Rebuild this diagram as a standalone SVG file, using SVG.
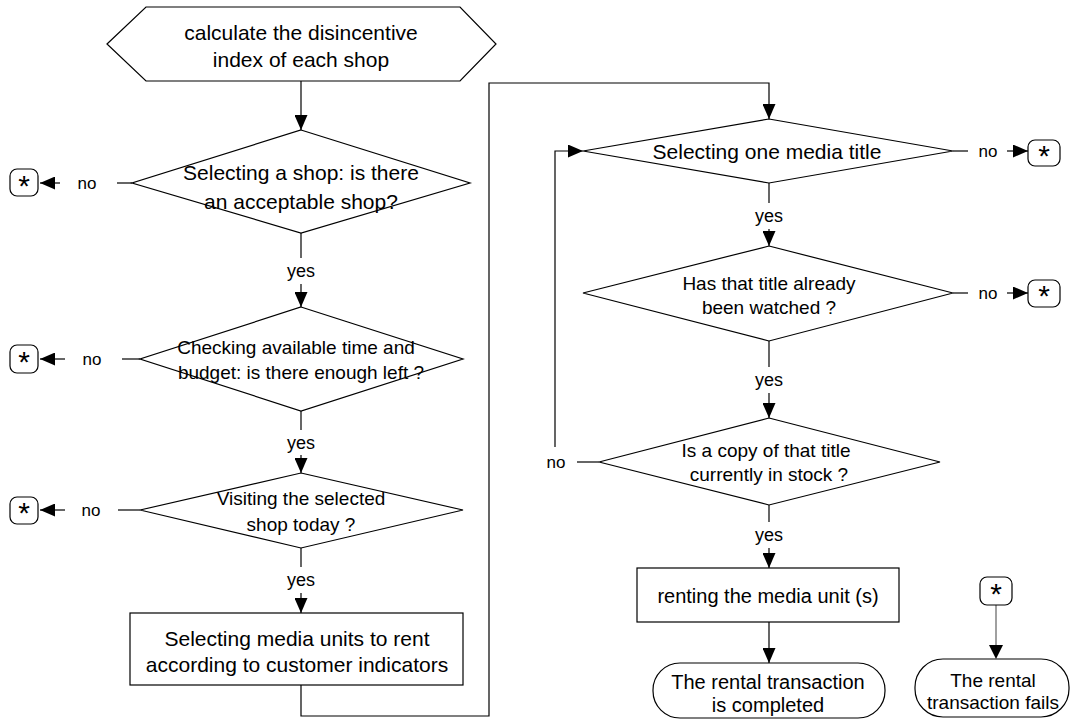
<svg xmlns="http://www.w3.org/2000/svg" width="1070" height="720" viewBox="0 0 1070 720">
<defs>
<marker id="ah" markerUnits="userSpaceOnUse" markerWidth="15" markerHeight="13" refX="15" refY="6.5" orient="auto">
<path d="M0,0 L15,6.5 L0,13 Z" fill="#000"/>
</marker>
<style>
.s{fill:#fff;stroke:#000;stroke-width:1.2}
.c{fill:none;stroke:#000;stroke-width:1.2}
.g{fill:none;stroke:#808080;stroke-width:1.5}
.a{font-family:"Liberation Sans",Arial,sans-serif;font-size:21px;text-anchor:middle;dominant-baseline:central;fill:#000}
.j{font-family:"Liberation Sans",Arial,sans-serif;font-size:19px;text-anchor:middle;dominant-baseline:central;fill:#000}
.n{font-family:"Liberation Sans",Arial,sans-serif;font-size:17px;text-anchor:middle;dominant-baseline:central;fill:#000}
.y{font-family:"Liberation Sans",Arial,sans-serif;font-size:18px;text-anchor:middle;dominant-baseline:central;fill:#000}
.st{font-family:"Liberation Sans",Arial,sans-serif;font-size:30px;text-anchor:middle;fill:#000}
</style>
</defs>
<rect width="1070" height="720" fill="#fff"/>

<g id="connectors">
<line class="c" x1="301" y1="81" x2="301" y2="130" marker-end="url(#ah)"/>
<line class="c" x1="301" y1="233" x2="301" y2="258"/>
<line class="c" x1="301" y1="284" x2="301" y2="307" marker-end="url(#ah)"/>
<text class="y" x="301" y="271">yes</text>
<line class="c" x1="301" y1="411" x2="301" y2="430"/>
<line class="c" x1="301" y1="455" x2="301" y2="473" marker-end="url(#ah)"/>
<text class="y" x="301" y="443">yes</text>
<line class="c" x1="301" y1="548" x2="301" y2="567"/>
<line class="c" x1="301" y1="593" x2="301" y2="613" marker-end="url(#ah)"/>
<text class="y" x="301" y="580">yes</text>

<line class="c" x1="132" y1="183" x2="117" y2="183"/>
<text class="n" x="87" y="183">no</text>
<line class="c" x1="60" y1="183" x2="40" y2="183" marker-end="url(#ah)"/>
<line class="c" x1="140" y1="359" x2="122" y2="359"/>
<text class="n" x="92" y="359">no</text>
<line class="c" x1="65" y1="359" x2="40" y2="359" marker-end="url(#ah)"/>
<line class="c" x1="140" y1="510" x2="118" y2="510"/>
<text class="n" x="91" y="510">no</text>
<line class="c" x1="65" y1="510" x2="40" y2="510" marker-end="url(#ah)"/>

<polyline class="c" points="301,685 301,716 489,716 489,83 769,83 769,119" marker-end="url(#ah)"/>

<line class="c" x1="769" y1="183" x2="769" y2="203"/>
<line class="c" x1="769" y1="229" x2="769" y2="246" marker-end="url(#ah)"/>
<text class="y" x="769" y="216">yes</text>
<line class="c" x1="769" y1="341" x2="769" y2="367"/>
<line class="c" x1="769" y1="393" x2="769" y2="418" marker-end="url(#ah)"/>
<text class="y" x="769" y="380">yes</text>
<line class="c" x1="769" y1="505" x2="769" y2="522"/>
<line class="c" x1="769" y1="548" x2="769" y2="568" marker-end="url(#ah)"/>
<text class="y" x="769" y="535">yes</text>
<line class="c" x1="769" y1="622" x2="769" y2="663" marker-end="url(#ah)"/>

<line class="c" x1="953" y1="151" x2="968" y2="151"/>
<text class="n" x="988" y="151">no</text>
<line class="c" x1="1007" y1="151" x2="1028" y2="151" marker-end="url(#ah)"/>
<line class="c" x1="953" y1="293" x2="968" y2="293"/>
<text class="n" x="988" y="293">no</text>
<line class="c" x1="1007" y1="293" x2="1028" y2="293" marker-end="url(#ah)"/>

<line class="c" x1="599" y1="462" x2="577" y2="462"/>
<text class="n" x="556" y="462">no</text>
<polyline class="c" points="555,447 555,151 583,151" marker-end="url(#ah)"/>

<line class="g" x1="996" y1="605" x2="996" y2="645"/>
<path d="M989,645 L1003,645 L996,659 Z" fill="#000"/>
</g>

<g id="start">
<polygon class="s" points="107,44 146,7 460,7 496,44 460,81 146,81"/>
<text class="a" x="301" y="32">calculate the disincentive</text>
<text class="a" x="301" y="59">index of each shop</text>
</g>

<g id="d1">
<polygon class="s" points="301,130 470,183 301,233 132,183"/>
<text class="a" x="301" y="172">Selecting a shop: is there</text>
<text class="a" x="301" y="201">an acceptable shop?</text>
</g>
<g id="d2">
<polygon class="s" points="301,307 463,359 301,411 140,359"/>
<text class="j" x="296" y="347">Checking available time and</text>
<text class="j" x="301" y="372">budget: is there enough left ?</text>
</g>
<g id="d3">
<polygon class="s" points="301,473 463,510 301,548 140,510"/>
<text class="j" x="301" y="498">Visiting the selected</text>
<text class="j" x="301" y="524">shop today ?</text>
</g>
<g id="p1">
<rect class="s" x="130" y="613" width="333" height="72"/>
<text class="j" x="297" y="638" style="font-size:21px">Selecting media units to rent</text>
<text class="j" x="297" y="664" style="font-size:21px">according to customer indicators</text>
</g>

<g id="x1"><rect class="s" x="10" y="169" width="28" height="27" rx="7"/><text class="st" x="24" y="196">*</text></g>
<g id="x2"><rect class="s" x="10" y="345" width="28" height="28" rx="7"/><text class="st" x="24" y="372">*</text></g>
<g id="x3"><rect class="s" x="10" y="497" width="28" height="27" rx="7"/><text class="st" x="24" y="523">*</text></g>

<g id="d4">
<polygon class="s" points="769,119 953,151 769,183 583,151"/>
<text class="a" x="767" y="151">Selecting one media title</text>
</g>
<g id="d5">
<polygon class="s" points="769,246 953,293 769,341 583,293"/>
<text class="j" x="769" y="283">Has that title already</text>
<text class="j" x="769" y="307">been watched ?</text>
</g>
<g id="d6">
<polygon class="s" points="769,418 940,462 769,505 599,462"/>
<text class="j" x="766" y="450">Is a copy of that title</text>
<text class="j" x="769" y="474">currently in stock ?</text>
</g>
<g id="p2">
<rect class="s" x="637" y="568" width="262" height="54"/>
<text class="j" x="768" y="596" style="font-size:20px">renting the media unit (s)</text>
</g>
<g id="t1">
<rect class="s" x="653" y="663" width="232" height="55" rx="27"/>
<text class="j" x="768" y="682" style="font-size:20px">The rental transaction</text>
<text class="j" x="768" y="705" style="font-size:20px">is completed</text>
</g>

<g id="x4"><rect class="s" x="1028" y="140" width="32" height="26" rx="7"/><text class="st" x="1044" y="166">*</text></g>
<g id="x5"><rect class="s" x="1028" y="280" width="32" height="27" rx="7"/><text class="st" x="1044" y="306">*</text></g>
<g id="x6"><rect class="s" x="980" y="577" width="32" height="28" rx="7"/><text class="st" x="996" y="604">*</text></g>

<g id="t2">
<rect class="s" x="915" y="659" width="154" height="58" rx="28"/>
<text class="j" x="993" y="680">The rental</text>
<text class="j" x="993" y="702">transaction fails</text>
</g>
</svg>
